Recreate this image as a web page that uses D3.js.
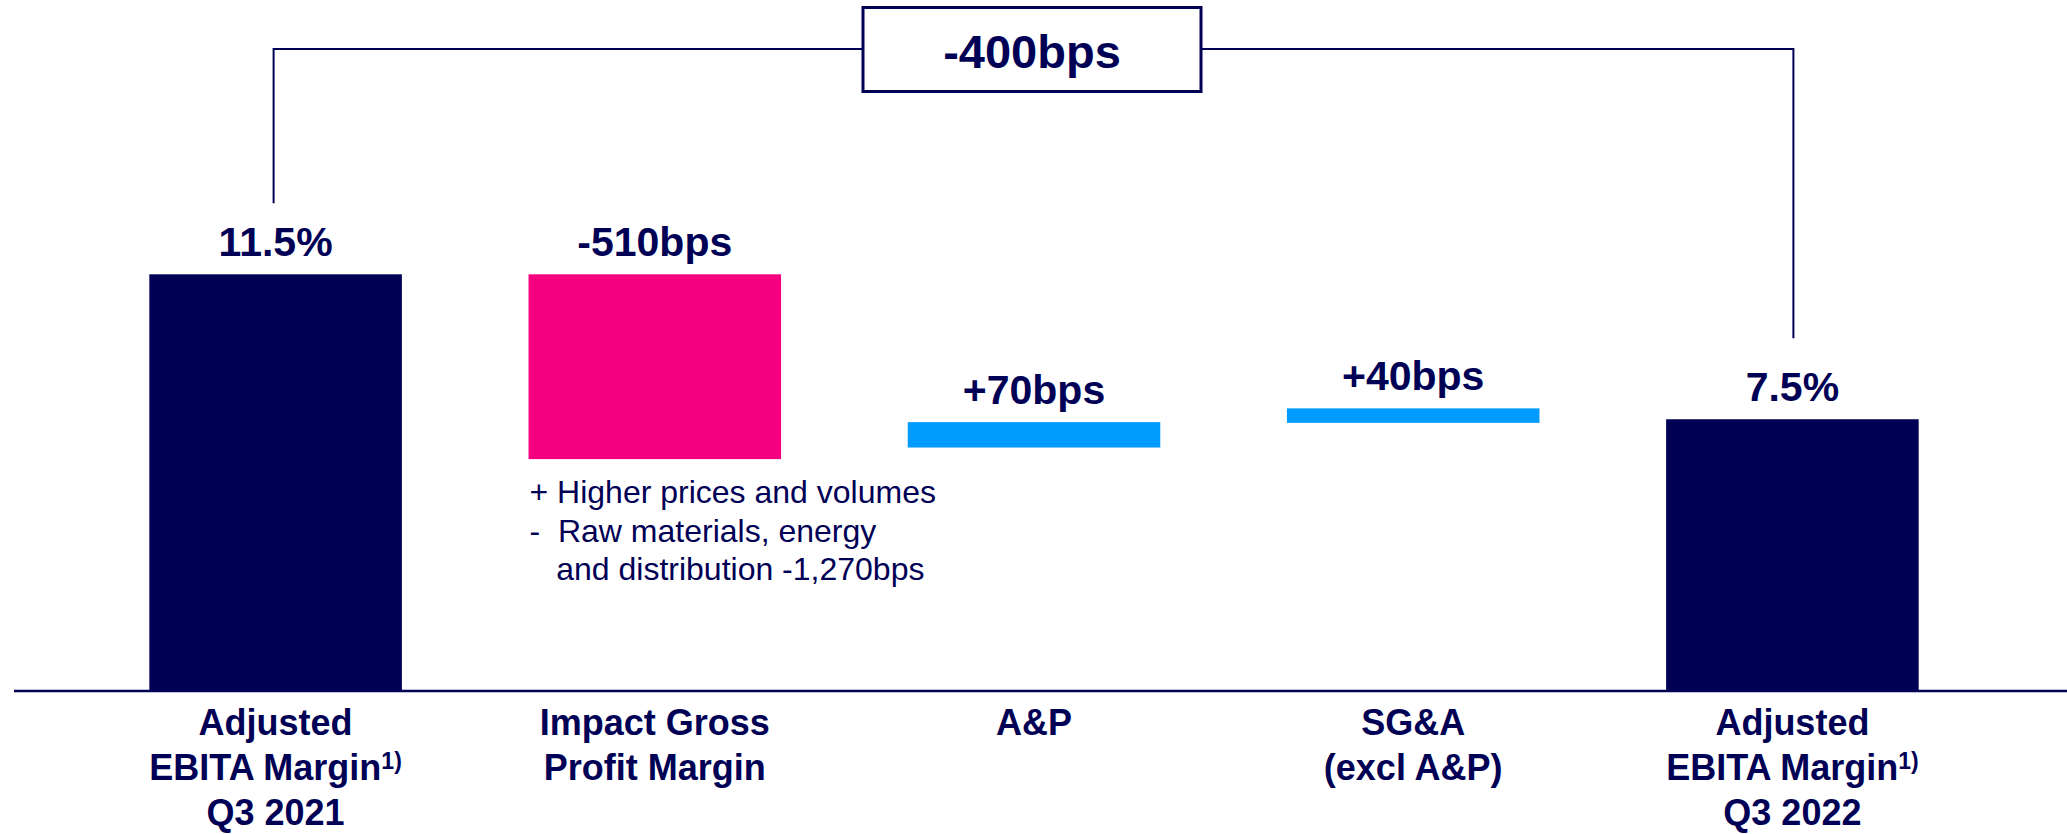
<!DOCTYPE html>
<html>
<head>
<meta charset="utf-8">
<script src="https://cdn.jsdelivr.net/npm/d3@7"></script>
<style>
  html, body { margin: 0; padding: 0; background: #ffffff; }
  svg { display: block; font-family: "Liberation Sans", Arial, sans-serif; }
</style>
</head>
<body>
<div id="chart"></div>
<script>
// --- datos ---
const categorias = ["c1", "c2", "c3", "c4", "c5"];
const etiquetasCategoria = [
  ["Adjusted", "EBITA Margin", "Q3 2021"],
  ["Impact Gross", "Profit Margin"],
  ["A&P"],
  ["SG&A", "(excl A&P)"],
  ["Adjusted", "EBITA Margin", "Q3 2022"]
];
const notas = ["1)", "", "", "", "1)"];
const inicio = [0, 11.5, 6.72, 7.4, 0];   // % (base de cada barra)
const fin = [11.5, 6.4, 7.42, 7.8, 7.5];  // % (tope de cada barra)
const tipos = ["total", "neg", "pos", "pos", "total"];
const etiquetasValor = ["11.5%", "-510bps", "+70bps", "+40bps", "7.5%"];
const etiquetaTotal = "-400bps";
const comentario = ["+ Higher prices and volumes", "-  Raw materials, energy", "   and distribution -1,270bps"];

// --- lienzo ---
const ancho = 2067, alto = 834;
const azul = "#000055";
const colores = { total: "#000055", neg: "#F5007F", pos: "#009BFF" };

const svg = d3.select("#chart").append("svg")
  .attr("width", ancho)
  .attr("height", alto);

const x = d3.scaleBand()
  .domain(categorias)
  .range([86, 1982])
  .paddingInner(0.334)
  .paddingOuter(0.167);

const y = d3.scaleLinear()
  .domain([0, 11.5])
  .range([691, 274.3]);

// barras
svg.selectAll("rect.barra")
  .data(categorias)
  .enter().append("rect")
  .attr("class", "barra")
  .attr("x", d => x(d))
  .attr("width", x.bandwidth())
  .attr("y", (d, i) => y(Math.max(inicio[i], fin[i])))
  .attr("height", (d, i) => Math.abs(y(inicio[i]) - y(fin[i])))
  .attr("fill", (d, i) => colores[tipos[i]]);

// eje horizontal
svg.append("line")
  .attr("x1", 14).attr("x2", ancho)
  .attr("y1", y(0)).attr("y2", y(0))
  .attr("stroke", azul)
  .attr("stroke-width", 2.5);

// etiquetas de valor
svg.selectAll("text.valor")
  .data(categorias)
  .enter().append("text")
  .attr("class", "valor")
  .attr("x", d => x(d) + x.bandwidth() / 2)
  .attr("y", (d, i) => y(Math.max(inicio[i], fin[i])) - 18)
  .attr("text-anchor", "middle")
  .attr("font-size", 41)
  .attr("font-weight", "bold")
  .attr("fill", azul)
  .text((d, i) => etiquetasValor[i]);

// etiquetas de categoría (varias líneas)
categorias.forEach((c, i) => {
  etiquetasCategoria[i].forEach((linea, j) => {
    const t = svg.append("text")
      .attr("x", x(c) + x.bandwidth() / 2)
      .attr("y", 735 + j * 45)
      .attr("text-anchor", "middle")
      .attr("font-size", 36)
      .attr("font-weight", "bold")
      .attr("fill", azul);
    t.append("tspan").text(linea);
    if (j === 1 && notas[i]) {
      t.append("tspan")
        .attr("font-size", 23)
        .attr("dy", -11)
        .text(notas[i]);
    }
  });
});

// comentario bajo la barra rosa
const xRosa = x(categorias[1]);
const yRosa = y(fin[1]);
svg.selectAll("text.comentario")
  .data(comentario)
  .enter().append("text")
  .attr("class", "comentario")
  .attr("x", xRosa + 1)
  .attr("y", (d, i) => yRosa + 44 + i * 38.5)
  .attr("font-size", 32)
  .attr("fill", azul)
  .attr("xml:space", "preserve")
  .style("white-space", "pre")
  .text(d => d);

// corchete con el cambio total
const xIzq = x(categorias[0]) + x.bandwidth() / 2 - 2;
const xDer = x(categorias[4]) + x.bandwidth() / 2 + 1;
const yCorchete = 49;
const xCaja = x(categorias[2]) + x.bandwidth() / 2 - 2;
const anchoCaja = 338, altoCaja = 84;

svg.append("path")
  .attr("d", `M${xIzq},${y(fin[0]) - 71} V${yCorchete} H${xCaja - anchoCaja / 2}`)
  .attr("fill", "none")
  .attr("stroke", azul)
  .attr("stroke-width", 2);

svg.append("path")
  .attr("d", `M${xCaja + anchoCaja / 2},${yCorchete} H${xDer} V${y(fin[4]) - 81}`)
  .attr("fill", "none")
  .attr("stroke", azul)
  .attr("stroke-width", 2);

svg.append("rect")
  .attr("x", xCaja - anchoCaja / 2)
  .attr("y", 7.5)
  .attr("width", anchoCaja)
  .attr("height", altoCaja)
  .attr("fill", "#ffffff")
  .attr("stroke", azul)
  .attr("stroke-width", 3);

svg.append("text")
  .attr("x", xCaja)
  .attr("y", 68)
  .attr("text-anchor", "middle")
  .attr("font-size", 47)
  .attr("font-weight", "bold")
  .attr("fill", azul)
  .text(etiquetaTotal);
</script>
</body>
</html>
